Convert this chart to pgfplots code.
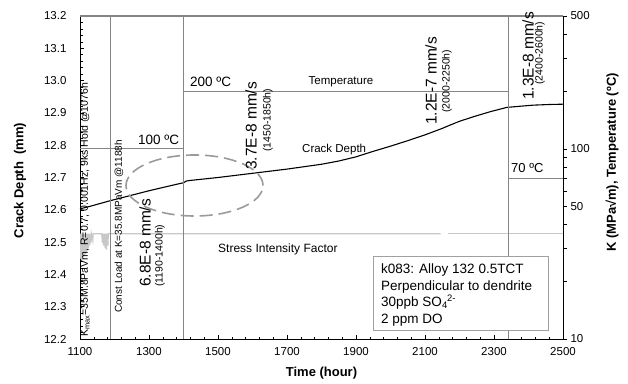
\documentclass[border=0pt]{standalone}
\usepackage{pgfplots}
\pgfplotsset{compat=1.18}
\usepackage{fontspec}
\setmainfont{Liberation Sans}

\definecolor{tempgray}{HTML}{858585}
\definecolor{kgray}{HTML}{C8C8C8}
\definecolor{ellgray}{HTML}{9A9A9A}
\definecolor{boxgray}{HTML}{A0A0A0}
\newcommand{\fsz}[1]{\fontsize{#1}{1.2\dimexpr#1pt\relax}\selectfont}

% crack depth (mm) versus time (h)
\pgfplotstableread{
t     a
1100  12.603
1130  12.611
1160  12.620
1187  12.628
1220  12.637
1260  12.648
1300  12.659
1340  12.669
1380  12.679
1401  12.684
1408  12.689
1420  12.691
1500  12.700
1600  12.713
1700  12.726
1800  12.741
1850  12.751
1900  12.764
1950  12.781
2000  12.797
2050  12.814
2100  12.832
2150  12.852
2172  12.862
2200  12.874
2240  12.888
2290  12.904
2337  12.917
2380  12.921
2414  12.924
2460  12.926
2500  12.927
}\crack

% temperature (C)
\pgfplotstableread{
t     T
1100  100
1401  100
1401  200
2341  200
2341  70
2500  70
}\temperature

% stress intensity factor K (MPa sqrt m), cycling then constant load
\pgfplotstableread{
t     K
1100  35.8
1101  26.5
1102  35.8
1104  26.0
1105  35.8
1107  26.5
1108  35.8
1110  27.0
1111  35.8
1113  27.5
1114  35.8
1117  28.0
1118  35.8
1120  29.0
1121  35.8
1124  30.0
1125  35.8
1128  31.0
1129  35.8
1132  32.0
1133  35.8
1137  33.0
1138  35.8
1163  35.8
1165  32.0
1166  35.8
1169  31.0
1170  35.8
1173  30.0
1174  35.8
1177  29.5
1178  35.8
1181  31.0
1182  35.8
2145  35.8
}\kfirst
\pgfplotstableread{
t     K
2168  35.8
2500  35.8
}\ksecond

\begin{document}
\begin{tikzpicture}[x=1pt,y=1pt]
\useasboundingbox (-80,-44) rectangle (548,339);

\begin{axis}[
  scale only axis, width=483pt, height=323pt,
  xmin=1100, xmax=2500, ymin=12.2, ymax=13.2,
  axis x line*=bottom, axis y line*=left,
  axis line style={-, black, line width=0.8pt},
  xtick={1100,1300,1500,1700,1900,2100,2300,2500}, minor x tick num=4,
  ytick={12.2,12.3,12.4,12.5,12.6,12.7,12.8,12.9,13.0,13.1,13.2}, minor y tick num=4,
  tick align=inside, major tick length=4pt, minor tick length=2.5pt,
  tick style={black, line width=0.6pt},
  ticklabel style={font=\fsz{11.5}},
  /pgf/number format/assume math mode=true,
  xticklabel style={/pgf/number format/1000 sep={}, yshift=-5pt},
  yticklabel style={/pgf/number format/.cd, fixed, fixed zerofill, precision=1, /tikz/.cd, xshift=-10pt},
  clip=false,
]
\draw[tempgray, line width=1.4pt] (rel axis cs:0,1) -- (rel axis cs:1,1);
\addplot[black, line width=1.1pt] table[x=t, y=a] {\crack};
\end{axis}

\begin{axis}[
  scale only axis, width=483pt, height=323pt,
  xmin=1100, xmax=2500, ymode=log, ymin=10, ymax=500,
  hide x axis, axis y line*=right,
  axis line style={-, black, line width=0.8pt},
  ytick={10,50,100,500}, yticklabels={10,50,100,500},
  minor ytick={20,30,40,60,70,80,90,200,300,400},
  tick align=outside, major tick length=4pt, minor tick length=4pt,
  tick style={black, line width=0.6pt},
  ticklabel style={font=\fsz{11.5}},
  /pgf/number format/assume math mode=true,
]
\addplot[kgray, line width=1.2pt] table[x=t, y=K] {\kfirst};
\addplot[kgray, line width=1.2pt] table[x=t, y=K] {\ksecond};
\addplot[tempgray, line width=0.9pt] table[x=t, y=T] {\temperature};
\addplot[tempgray, line width=0.9pt] coordinates {(1187,10) (1187,500)};
\addplot[tempgray, line width=0.9pt] coordinates {(1401,10) (1401,500)};
\addplot[tempgray, line width=0.9pt] coordinates {(2341,10) (2341,500)};
\end{axis}

% region of interest
\draw[ellgray, line width=1.6pt, dash pattern=on 13pt off 6pt] (114.5,153.5) ellipse [x radius=68.5, y radius=30.5];

% axis titles
\node[font=\bfseries\fsz{13}] at (241.5,-34) {Time (hour)};
\node[font=\bfseries\fsz{13}, rotate=90] at (-60,158.5) {Crack Depth\ \ (mm)};
\node[font=\bfseries\fsz{13}, rotate=90] at (532,176.5) {K (MPa√m), Temperature (ºC)};

% test condition notes
\node[font=\fsz{10.5}, rotate=90, anchor=west, inner sep=0pt] at (5,2) {K\textsubscript{max}=35M.8PaVm, R=0.7, 0.001Hz, 9ks Hold @1076h};
\node[font=\fsz{10}, rotate=90, anchor=west, inner sep=0pt] at (39,26) {Const Load at K=35.8MPaVm @1188h};

% growth rates
\node[font=\fsz{15.5}, rotate=90, anchor=west, inner sep=0pt] at (65,52) {6.8E-8 mm/s};
\node[font=\fsz{10.5}, rotate=90, anchor=west, inner sep=0pt] at (80,52) {(1190-1400h)};
\node[font=\fsz{15.5}, rotate=90, anchor=west, inner sep=0pt] at (171,169) {3.7E-8 mm/s};
\node[font=\fsz{10.5}, rotate=90, anchor=west, inner sep=0pt] at (188,187) {(1450-1850h)};
\node[font=\fsz{15.5}, rotate=90, anchor=west, inner sep=0pt] at (351,214) {1.2E-7 mm/s};
\node[font=\fsz{10.5}, rotate=90, anchor=west, inner sep=0pt] at (367,226) {(2000-2250h)};
\node[font=\fsz{15.5}, rotate=90, anchor=west, inner sep=0pt] at (448,239) {1.3E-8 mm/s};
\node[font=\fsz{10.5}, rotate=90, anchor=west, inner sep=0pt] at (460,254) {(2400-2600h)};

% temperatures and series names
\node[font=\fsz{13.5}, anchor=west, inner sep=0pt] at (58,199) {100 ºC};
\node[font=\fsz{13.5}, anchor=west, inner sep=0pt] at (110,257) {200 ºC};
\node[font=\fsz{13}, anchor=west, inner sep=0pt] at (431,171) {70 ºC};
\node[font=\fsz{11.5}] at (261,257) {Temperature};
\node[font=\fsz{11.5}, anchor=west, inner sep=0pt] at (222,189) {Crack Depth};
\node[font=\fsz{12}, anchor=west, inner sep=0pt] at (138,90) {Stress Intensity Factor};

% specimen box
\draw[boxgray, line width=1pt, fill=white] (293,9) rectangle (468,83);
\node[font=\fsz{13.5}, anchor=base west, inner sep=0pt] at (301,66) {k083: Alloy 132 0.5TCT};
\node[font=\fsz{13.5}, anchor=base west, inner sep=0pt] at (301,49) {Perpendicular to dendrite};
\node[font=\fsz{13.5}, anchor=base west, inner sep=0pt] at (301,32.5) {30ppb SO\textsubscript{4}\kern-0.05em\textsuperscript{2-}};
\node[font=\fsz{13.5}, anchor=base west, inner sep=0pt] at (301,16) {2 ppm DO};
\end{tikzpicture}
\end{document}
